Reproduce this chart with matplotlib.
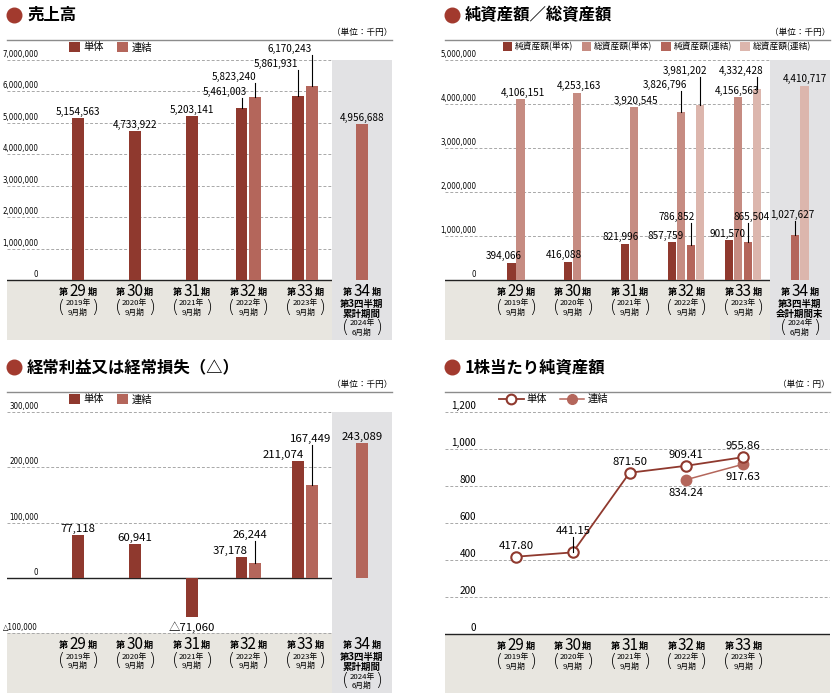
import numpy as np
import matplotlib.pyplot as plt
from matplotlib import font_manager
from matplotlib.lines import Line2D
from matplotlib.patches import Patch, Rectangle
from matplotlib.transforms import offset_copy

plt.rcParams['font.family'] = ['Noto Sans CJK JP', 'DejaVu Sans']

# --- data ---
periods = ['29', '30', '31', '32', '33', '34']
years = ['2019', '2020', '2021', '2022', '2023', '2024']
months = ['9月期', '9月期', '9月期', '9月期', '9月期', '6月期']

sales_tantai = [5154563, 4733922, 5203141, 5461003, 5861931, np.nan]
sales_renketsu = [np.nan, np.nan, np.nan, 5823240, 6170243, 4956688]

net_tantai = [394066, 416088, 821996, 857759, 901570, np.nan]
total_tantai = [4106151, 4253163, 3920545, 3826796, 4156563, np.nan]
net_renketsu = [np.nan, np.nan, np.nan, 786852, 865504, 1027627]
total_renketsu = [np.nan, np.nan, np.nan, 3981202, 4332428, 4410717]

ord_tantai = [77118, 60941, -71060, 37178, 211074, np.nan]
ord_renketsu = [np.nan, np.nan, np.nan, 26244, 167449, 243089]

bps_tantai = [417.80, 441.15, 871.50, 909.41, 955.86]
bps_renketsu = [np.nan, np.nan, np.nan, 834.24, 917.63]

C_DARK = '#8f392e'
C_MID = '#b4665b'
C_TOT_T = '#c68c82'
C_TOT_R = '#dcb6ad'
C_DOT = '#a23a2e'
BEIGE = '#e8e6e0'
SHADE = '#e2e2e4'
GRID = '#a8a8a8'

W, H = 837, 699
fig = plt.figure(figsize=(W / 100, H / 100), dpi=100)
XL = (-1.25, 5.53)

# condensed font for the y tick numbers if one is there
_fonts = font_manager.fontManager.ttflist
if any(f.name == 'Liberation Sans Narrow' for f in _fonts):
    TICK = dict(family='Liberation Sans Narrow', fontsize=6.0)
elif any(f.name == 'DejaVu Sans' and f.stretch == 'condensed' for f in _fonts):
    TICK = dict(family='DejaVu Sans', fontstretch='condensed', fontsize=5.7)
else:
    TICK = dict(fontsize=5.5)


def off(ax, dx, dy):
    return offset_copy(ax.transData, fig=fig, x=dx, y=dy, units='dots')


def add_panel(l, t, r, b, v0, p0, v1, p1):
    ax = fig.add_axes([l / W, 1 - b / H, (r - l) / W, (b - t) / H])
    k = (p0 - p1) / (v1 - v0)
    ax.set_ylim(v0 - (b - p0) / k, v0 + (p0 - t) / k)
    ax.set_xlim(*XL)
    for s in ['left', 'right', 'bottom']:
        ax.spines[s].set_visible(False)
    ax.spines['top'].set_color('#8c8c8c')
    ax.spines['top'].set_linewidth(1.0)
    ax.set_xticks([])
    ax.set_yticks([])
    ax.patch.set_alpha(0)
    return ax, k


def title(x, y, text, unit, ux):
    fig.add_artist(Line2D([(x + 7) / W], [1 - y / H], marker='o', ms=10.5,
                          color=C_DOT, transform=fig.transFigure))
    fig.text((x + 20) / W, 1 - y / H, text, fontsize=11.8, fontweight='bold',
             va='center', ha='left')
    fig.text(ux / W, 1 - (y + 18) / H, unit, fontsize=6.2, ha='right', va='center')


def background(ax, base, shade_top=None, shade=True):
    y0 = ax.get_ylim()[0]
    ax.add_patch(Rectangle((XL[0], y0), XL[1] - XL[0], base - y0, color=BEIGE,
                           zorder=0.5, lw=0))
    if shade:
        ax.add_patch(Rectangle((4.47, y0), XL[1] - 4.47, shade_top - y0,
                               color=SHADE, zorder=1.0, lw=0))


def yticks(ax, vals, labels, zero, **font):
    for v, s in zip(vals, labels):
        ax.text(-0.70, v, s, transform=off(ax, 0, 3), ha='right', va='baseline',
                zorder=5, **font)
        if v != zero:
            ax.axhline(v, color=GRID, lw=0.7, ls=(0, (3, 2)), zorder=0.8)
    ax.axhline(zero, color='#222222', lw=1.0, zorder=0.9)


def xlabels(ax, base, last_lines=None, n=6):
    for i in range(n):
        ax.text(i, base, periods[i], transform=off(ax, 0, -11), ha='center',
                va='center', fontsize=11, zorder=5)
        ax.text(i, base, '第', transform=off(ax, -9.5, -12), ha='right',
                va='center', fontsize=6.6, fontweight='bold', zorder=5)
        ax.text(i, base, '期', transform=off(ax, 9.5, -12), ha='left',
                va='center', fontsize=6.6, fontweight='bold', zorder=5)
        if i == 5 and last_lines:
            for j, s in enumerate(last_lines):
                ax.text(i, base, s, transform=off(ax, 0, -23.5 - 10 * j),
                        ha='center', va='center', fontsize=6.8,
                        fontweight='bold', zorder=5)
            dy = -20 - 10 * len(last_lines)
        else:
            dy = -20
        ax.text(i, base, years[i] + '年', transform=off(ax, 0, dy - 3.5),
                ha='center', va='center', fontsize=5.6, zorder=5)
        ax.text(i, base, months[i], transform=off(ax, 0, dy - 13), ha='center',
                va='center', fontsize=5.6, zorder=5)
        for sx, ch in [(-16.5, '('), (16.5, ')')]:
            ax.text(i, base, ch, transform=off(ax, sx, dy - 8), ha='center',
                    va='center', fontsize=13, fontweight='light', zorder=5,
                    family='DejaVu Sans')


def draw_bars(ax, series, colors, width, offsets):
    pos = [[None] * 6 for _ in series]
    for i in range(6):
        present = [j for j in range(len(series)) if not np.isnan(series[j][i])]
        offs = offsets[len(present)]
        for r, j in enumerate(present):
            x = i + offs[r]
            ax.bar(x, series[j][i], width, color=colors[j], zorder=2, lw=0)
            pos[j][i] = x
    return pos


def vlabel(ax, k, x, v, text, size, level=None, ha='center', dx=0, below=False):
    if below:
        ax.text(x, v, text, transform=off(ax, dx, -4), ha=ha, va='top',
                fontsize=size, zorder=5)
    elif level is None:
        ax.text(x, v, text, transform=off(ax, dx, 3.5), ha=ha, va='baseline',
                fontsize=size, zorder=5)
    else:
        ax.text(x, level, text, transform=off(ax, dx, 0), ha=ha, va='baseline',
                fontsize=size, zorder=5)
        ax.plot([x, x], [v, level - 3 / k], color='black', lw=0.8, zorder=4)


def fmt(v):
    return f'{v:,.0f}' if v >= 0 else '△' + f'{-v:,.0f}'


def square_legend(ax, labels, colors, x, size, spacing):
    handles = [Patch(facecolor=c, edgecolor='none') for c in colors]
    ax.legend(handles, labels, loc='upper left', bbox_to_anchor=(x, 1.0),
              ncol=len(labels), frameon=False, fontsize=size, handlelength=1.1,
              handleheight=1.1, handletextpad=0.3, columnspacing=spacing,
              borderaxespad=0.1, borderpad=0.1)


# ---------- 売上高 ----------
ax1, k1 = add_panel(7, 40, 392, 340, 0, 280, 7e6, 60)
title(7, 15, '売上高', '（単位：千円）', 392)
background(ax1, 0, 7e6)
yticks(ax1, np.arange(0, 7.5e6, 1e6), [f'{int(v):,}' for v in np.arange(0, 7.5e6, 1e6)],
       0, **TICK)
p1 = draw_bars(ax1, [sales_tantai, sales_renketsu], [C_DARK, C_MID], 0.21,
               {1: [0], 2: [-0.12, 0.12]})
lay1 = {(0, 3): dict(level=5.90e6, ha='right', dx=5),
        (1, 3): dict(level=6.35e6, ha='right', dx=1),
        (0, 4): dict(level=6.79e6, ha='right', dx=0),
        (1, 4): dict(level=7.27e6, ha='right', dx=0)}
for j, s in enumerate([sales_tantai, sales_renketsu]):
    for i, v in enumerate(s):
        if not np.isnan(v):
            vlabel(ax1, k1, p1[j][i], v, fmt(v), 7.2, **lay1.get((j, i), {}))
xlabels(ax1, 0, ['第3四半期', '累計期間'])
square_legend(ax1, ['単体', '連結'], [C_DARK, C_MID], 0.155, 7.4, 1.3)

# ---------- 純資産額／総資産額 ----------
ax2, k2 = add_panel(445, 40, 830, 340, 0, 280, 5e6, 60)
title(445, 15, '純資産額／総資産額', '（単位：千円）', 830)
background(ax2, 0, 5e6)
yticks(ax2, np.arange(0, 5.5e6, 1e6), [f'{int(v):,}' for v in np.arange(0, 5.5e6, 1e6)],
       0, **TICK)
s2 = [net_tantai, total_tantai, net_renketsu, total_renketsu]
p2 = draw_bars(ax2, s2, [C_DARK, C_TOT_T, C_MID, C_TOT_R], 0.145,
               {2: [-0.08, 0.08], 4: [-0.246, -0.088, 0.088, 0.246]})
lay2 = {(0, 0): dict(dx=-8), (0, 1): dict(dx=-4), (0, 2): dict(dx=-4),
        (0, 3): dict(dx=-7), (0, 4): dict(dx=-2),
        (1, 0): dict(dx=2), (1, 1): dict(dx=2), (1, 2): dict(dx=2),
        (1, 3): dict(level=4.375e6, ha='right', dx=6), (1, 4): dict(dx=-1),
        (2, 3): dict(level=1.375e6, ha='right', dx=3),
        (2, 4): dict(level=1.375e6, dx=4),
        (2, 5): dict(level=1.42e6, dx=-3),
        (3, 3): dict(level=4.693e6, ha='right', dx=7),
        (3, 4): dict(level=4.693e6, ha='right', dx=6)}
for j, s in enumerate(s2):
    for i, v in enumerate(s):
        if not np.isnan(v):
            vlabel(ax2, k2, p2[j][i], v, fmt(v), 7.2, **lay2.get((j, i), {}))
xlabels(ax2, 0, ['第3四半期', '会計期間末'])
square_legend(ax2, ['純資産額(単体)', '総資産額(単体)', '純資産額(連結)', '総資産額(連結)'],
              [C_DARK, C_TOT_T, C_MID, C_TOT_R], 0.145, 6.3, 1.0)

# ---------- 経常利益又は経常損失 ----------
ax3, k3 = add_panel(7, 392, 392, 693, 0, 578, 300000, 412)
title(7, 367, '経常利益又は経常損失（△）', '（単位：千円）', 392)
background(ax3, -100000, 300000)
yticks(ax3, [300000, 200000, 100000, 0, -100000],
       ['300,000', '200,000', '100,000', '0', '△100,000'], 0, **TICK)
p3 = draw_bars(ax3, [ord_tantai, ord_renketsu], [C_DARK, C_MID], 0.21,
               {1: [0], 2: [-0.12, 0.12]})
lay3 = {(0, 2): dict(below=True),
        (0, 3): dict(ha='right', dx=6),
        (1, 3): dict(level=72300, dx=-5),
        (0, 4): dict(ha='right', dx=6),
        (1, 4): dict(level=245800, dx=-1)}
for j, s in enumerate([ord_tantai, ord_renketsu]):
    for i, v in enumerate(s):
        if not np.isnan(v):
            vlabel(ax3, k3, p3[j][i], v, fmt(v), 8.2, **lay3.get((j, i), {}))
xlabels(ax3, -100000, ['第3四半期', '累計期間'])
square_legend(ax3, ['単体', '連結'], [C_DARK, C_MID], 0.155, 7.4, 1.3)

# ---------- 1株当たり純資産額 ----------
ax4, k4 = add_panel(445, 392, 830, 693, 0, 634, 1200, 412)
title(445, 367, '1株当たり純資産額', '（単位：円）', 830)
background(ax4, 0, shade=False)
yticks(ax4, [0, 200, 400, 600, 800, 1000, 1200],
       ['0', '200', '400', '600', '800', '1,000', '1,200'], 0, fontsize=7.2)
xi = np.arange(len(bps_tantai))
ax4.plot(xi, bps_renketsu, color=C_MID, lw=1.1, marker='o', ms=7.5,
         mfc=C_MID, mec=C_MID, zorder=3)
ax4.plot(xi, bps_tantai, color=C_DARK, lw=1.3, marker='o', ms=7.5,
         mfc='white', mec=C_DARK, mew=1.5, zorder=3.5)
for i, v in enumerate(bps_tantai):
    if i == 1:
        vlabel(ax4, k4, i, v, f'{v:.2f}', 8.2, level=540)
    else:
        ax4.text(i, v, f'{v:.2f}', transform=off(ax4, 0, 8), ha='center',
                 va='baseline', fontsize=8.2, zorder=5)
for i, v in enumerate(bps_renketsu):
    if not np.isnan(v):
        ax4.text(i, v, f'{v:.2f}', transform=off(ax4, 0, -8), ha='center',
                 va='top', fontsize=8.2, zorder=5)
xlabels(ax4, 0, None, n=5)
h4 = [Line2D([], [], color=C_DARK, lw=1.3, marker='o', ms=7, mfc='white',
             mec=C_DARK, mew=1.5),
      Line2D([], [], color=C_MID, lw=1.1, marker='o', ms=7, mfc=C_MID, mec=C_MID)]
ax4.legend(h4, ['単体', '連結'], loc='upper left', bbox_to_anchor=(0.135, 1.0),
           ncol=2, frameon=False, fontsize=7.4, handlelength=2.4,
           handletextpad=0.3, columnspacing=1.2, borderaxespad=0.1, borderpad=0.1)

fig.savefig('out.png', dpi=100)
